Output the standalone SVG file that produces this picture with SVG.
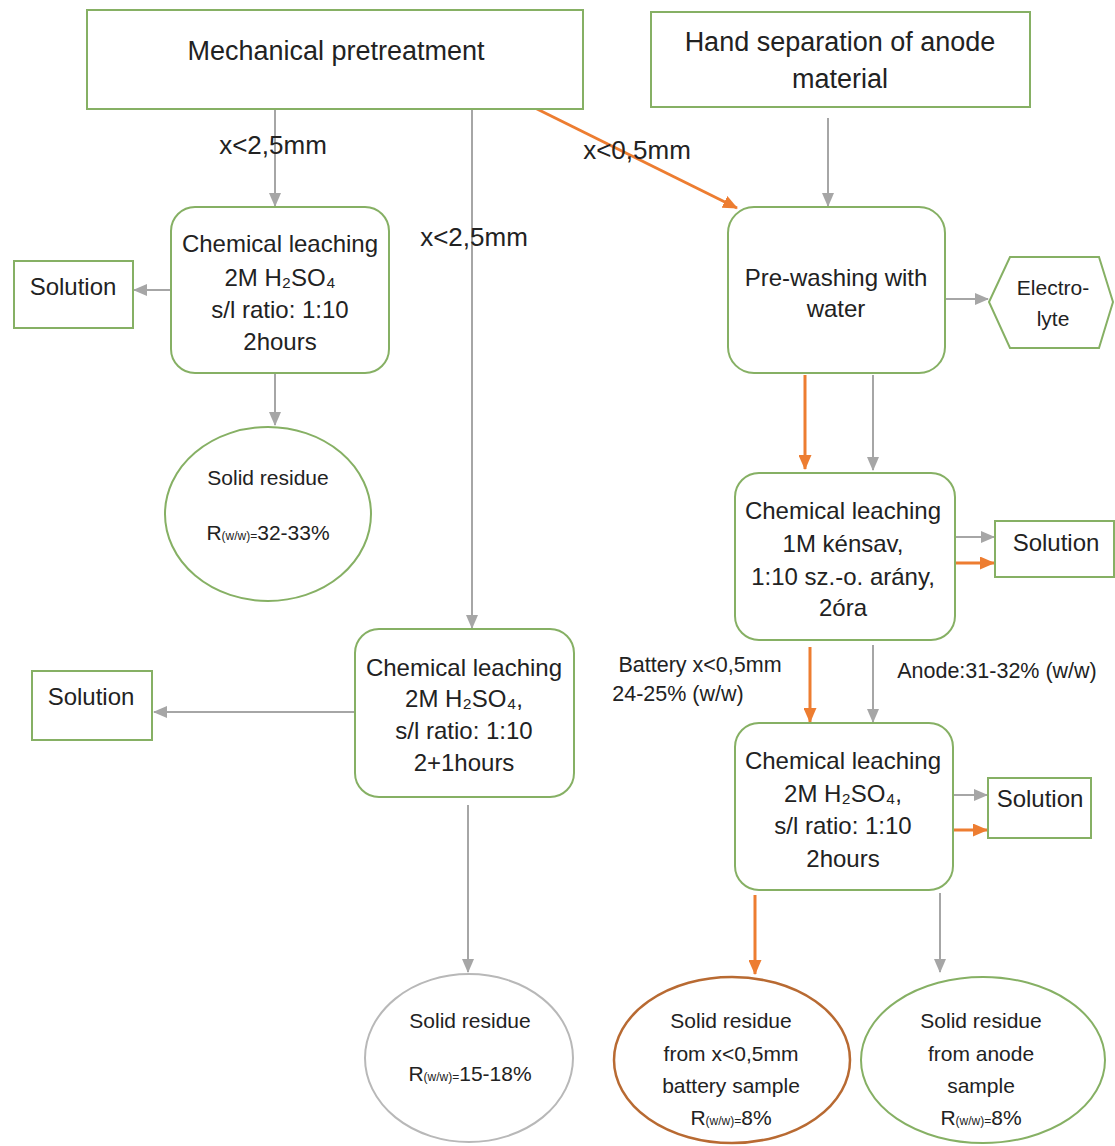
<svg xmlns="http://www.w3.org/2000/svg" width="1115" height="1146" viewBox="0 0 1115 1146">
<style>
text{font-family:"Liberation Sans",Arial,sans-serif;fill:#222;text-anchor:middle;dominant-baseline:central}
.box{fill:#fff;stroke:#86b064;stroke-width:2}
.t{font-size:24px}
.ti{font-size:26px}
.tt{font-size:27px}
.s{font-size:21.5px}
.c{font-size:21px}
.sub{font-size:12px}
.g{stroke:#a6a6a6;stroke-width:2;fill:none}
.o{stroke:#ed7d31;stroke-width:3;fill:none}
</style>
<defs>
<marker id="ag" markerUnits="userSpaceOnUse" markerWidth="14" markerHeight="12" refX="13" refY="6" orient="auto"><path d="M0,0 L14,6 L0,12 z" fill="#a6a6a6"/></marker>
<marker id="ao" markerUnits="userSpaceOnUse" markerWidth="15" markerHeight="13" refX="14" refY="6.5" orient="auto"><path d="M0,0 L15,6.5 L0,13 z" fill="#ed7d31"/></marker>
</defs>
<rect width="1115" height="1146" fill="#fff"/>

<g id="connectors">
<line class="g" x1="275" y1="110" x2="275" y2="206" marker-end="url(#ag)"/>
<line class="g" x1="472" y1="110" x2="472" y2="628" marker-end="url(#ag)"/>
<line class="o" x1="535" y1="108" x2="737" y2="208" marker-end="url(#ao)"/>
<line class="g" x1="828" y1="118" x2="828" y2="206" marker-end="url(#ag)"/>
<line class="g" x1="171" y1="290" x2="134" y2="290" marker-end="url(#ag)"/>
<line class="g" x1="275" y1="374" x2="275" y2="425" marker-end="url(#ag)"/>
<line class="g" x1="945" y1="299" x2="988" y2="299" marker-end="url(#ag)"/>
<line class="o" x1="805" y1="375" x2="805" y2="469" marker-end="url(#ao)"/>
<line class="g" x1="873" y1="375" x2="873" y2="470" marker-end="url(#ag)"/>
<line class="g" x1="955" y1="537" x2="994" y2="537" marker-end="url(#ag)"/>
<line class="o" x1="955" y1="563" x2="994" y2="563" marker-end="url(#ao)"/>
<line class="o" x1="810" y1="647" x2="810" y2="722" marker-end="url(#ao)"/>
<line class="g" x1="873" y1="645" x2="873" y2="722" marker-end="url(#ag)"/>
<line class="g" x1="355" y1="712" x2="154" y2="712" marker-end="url(#ag)"/>
<line class="g" x1="953" y1="795" x2="987" y2="795" marker-end="url(#ag)"/>
<line class="o" x1="953" y1="830" x2="987" y2="830" marker-end="url(#ao)"/>
<line class="g" x1="468" y1="805" x2="468" y2="972" marker-end="url(#ag)"/>
<line class="o" x1="755" y1="895" x2="755" y2="974" marker-end="url(#ao)"/>
<line class="g" x1="940" y1="893" x2="940" y2="972" marker-end="url(#ag)"/>
<text class="ti" x="273" y="145">x&lt;2,5mm</text>
<text class="ti" x="474" y="237">x&lt;2,5mm</text>
<text class="ti" x="637" y="150">x&lt;0,5mm</text>
<text class="s" x="700" y="665">Battery x&lt;0,5mm</text>
<text class="s" x="678" y="694">24-25% (w/w)</text>
<text class="s" x="997" y="671">Anode:31-32% (w/w)</text>
</g>

<g id="mechanical">
<rect class="box" x="87" y="10" width="496" height="99"/>
<text class="tt" x="336" y="51">Mechanical pretreatment</text>
</g>

<g id="hand">
<rect class="box" x="651" y="12" width="379" height="95"/>
<text class="tt" x="840" y="42">Hand separation of anode</text>
<text class="tt" x="840" y="79">material</text>
</g>

<g id="leach1">
<rect class="box" x="171" y="207" width="218" height="166" rx="24"/>
<text class="t" x="280" y="243">Chemical leaching</text>
<text class="t" x="280" y="277">2M H₂SO₄</text>
<text class="t" x="280" y="309">s/l ratio: 1:10</text>
<text class="t" x="280" y="341">2hours</text>
</g>

<g id="solution1">
<rect class="box" x="14" y="261" width="119" height="67"/>
<text class="t" x="73" y="286">Solution</text>
</g>

<g id="residue1">
<ellipse class="box" cx="268" cy="514" rx="103" ry="87"/>
<text class="c" x="268" y="477">Solid residue</text>
<text class="c" x="268" y="532">R<tspan class="sub" dy="4">(w/w)=</tspan><tspan dy="-4">32-33%</tspan></text>
</g>

<g id="prewash">
<rect class="box" x="728" y="207" width="217" height="166" rx="26"/>
<text class="t" x="836" y="277">Pre-washing with</text>
<text class="t" x="836" y="308">water</text>
</g>

<g id="electrolyte">
<polygon class="box" points="989,302 1010,257 1099,257 1113,302 1099,348 1010,348"/>
<text class="c" x="1053" y="287">Electro-</text>
<text class="c" x="1053" y="318">lyte</text>
</g>

<g id="leach2">
<rect class="box" x="735" y="473" width="220" height="167" rx="24"/>
<text class="t" x="843" y="510">Chemical leaching</text>
<text class="t" x="843" y="543">1M kénsav,</text>
<text class="t" x="843" y="576">1:10 sz.-o. arány,</text>
<text class="t" x="843" y="607">2óra</text>
</g>

<g id="solution3">
<rect class="box" x="995" y="521" width="119" height="56"/>
<text class="t" x="1056" y="542">Solution</text>
</g>

<g id="leach3">
<rect class="box" x="355" y="629" width="219" height="168" rx="24"/>
<text class="t" x="464" y="667">Chemical leaching</text>
<text class="t" x="464" y="698">2M H₂SO₄,</text>
<text class="t" x="464" y="730">s/l ratio: 1:10</text>
<text class="t" x="464" y="762">2+1hours</text>
</g>

<g id="solution2">
<rect class="box" x="32" y="671" width="120" height="69"/>
<text class="t" x="91" y="696">Solution</text>
</g>

<g id="leach4">
<rect class="box" x="735" y="723" width="218" height="167" rx="24"/>
<text class="t" x="843" y="760">Chemical leaching</text>
<text class="t" x="843" y="793">2M H₂SO₄,</text>
<text class="t" x="843" y="825">s/l ratio: 1:10</text>
<text class="t" x="843" y="858">2hours</text>
</g>

<g id="solution4">
<rect class="box" x="988" y="778" width="103" height="60"/>
<text class="t" x="1040" y="798">Solution</text>
</g>

<g id="residue2">
<ellipse cx="469" cy="1058" rx="104" ry="84" fill="#fff" stroke="#b8b8b8" stroke-width="2"/>
<text class="c" x="470" y="1020">Solid residue</text>
<text class="c" x="470" y="1073">R<tspan class="sub" dy="4">(w/w)=</tspan><tspan dy="-4">15-18%</tspan></text>
</g>

<g id="residue3">
<ellipse cx="732" cy="1060" rx="118" ry="83" fill="#fff" stroke="#b86a32" stroke-width="2.5"/>
<text class="c" x="731" y="1020">Solid residue</text>
<text class="c" x="731" y="1053">from x&lt;0,5mm</text>
<text class="c" x="731" y="1085">battery sample</text>
<text class="c" x="731" y="1117">R<tspan class="sub" dy="4">(w/w)=</tspan><tspan dy="-4">8%</tspan></text>
</g>

<g id="residue4">
<ellipse class="box" cx="983" cy="1060" rx="122" ry="83"/>
<text class="c" x="981" y="1020">Solid residue</text>
<text class="c" x="981" y="1053">from anode</text>
<text class="c" x="981" y="1085">sample</text>
<text class="c" x="981" y="1117">R<tspan class="sub" dy="4">(w/w)=</tspan><tspan dy="-4">8%</tspan></text>
</g>
</svg>
